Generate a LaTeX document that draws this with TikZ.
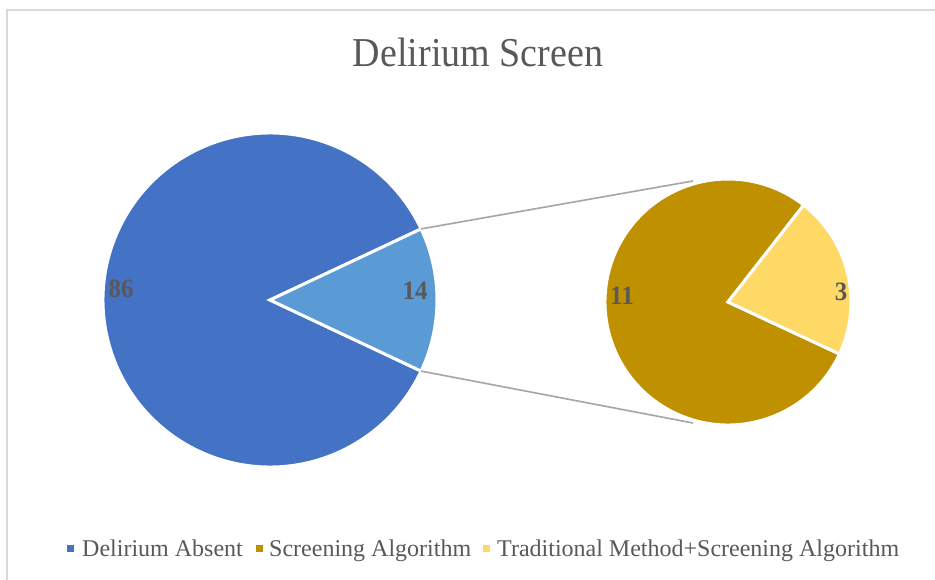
\documentclass[tikz,border=0pt]{standalone}
\usepackage{fontspec}
\setmainfont{Liberation Serif}
\usetikzlibrary{calc}
\definecolor{absentblue}{HTML}{4472C4}
\definecolor{splitblue}{HTML}{5B9BD5}
\definecolor{algobrown}{HTML}{BF9000}
\definecolor{tradyellow}{HTML}{FFD966}
\definecolor{textgray}{HTML}{595959}
\definecolor{linegray}{HTML}{A5A5A5}
\definecolor{framegray}{HTML}{D9D9D9}
\newcommand{\tallbox}[2]{\scalebox{1}[#1]{#2}}
\tikzset{
  slice/.style={draw=white, line width=3pt, line join=miter},
  serieslink/.style={draw=linegray, line width=1.6pt},
  valuelabel/.style={text=textgray, font=\bfseries\fontsize{25}{25}\selectfont, inner sep=0pt},
  legendkey/.style={minimum size=7pt, inner sep=0pt},
  legendtext/.style={text=textgray, font=\fontsize{24}{24}\selectfont, anchor=base west, inner sep=0pt}
}
\begin{document}
\begin{tikzpicture}[x=1pt, y=-1pt]
  \useasboundingbox (0,0) rectangle (935,580);
  \fill[white] (0,0) rectangle (935,580);
  % chart area frame (left and top edges)
  \draw[framegray, line width=1.5pt] (7,580) -- (7,10) -- (935,10);

  % title
  \node[text=textgray, font=\fontsize{38}{38}\selectfont, anchor=base, inner sep=0pt] (title) at (478,67) {\tallbox{1.08}{Delirium Screen}};

  % main pie
  \coordinate (mc) at (270,300);
  \filldraw[slice, fill=absentblue] (mc) -- ++(25.2:167) arc[start angle=25.2, end angle=334.8, radius=167] -- cycle;
  \filldraw[slice, fill=splitblue] (mc) -- ++(-25.2:167) arc[start angle=-25.2, end angle=25.2, radius=167] -- cycle;
  \coordinate (splittop) at ($(mc)+(-25.2:167)$);
  \coordinate (splitbot) at ($(mc)+(25.2:167)$);

  % secondary pie
  \coordinate (sc) at (728,302);
  \filldraw[slice, fill=algobrown] (sc) -- ++(25:123) arc[start angle=25, end angle=308, radius=123] -- cycle;
  \filldraw[slice, fill=tradyellow] (sc) -- ++(-52:123) arc[start angle=-52, end angle=25, radius=123] -- cycle;
  \coordinate (subtop) at (693,181);
  \coordinate (subbot) at (693,423);

  % series lines
  \draw[serieslink] (splittop) -- (subtop);
  \draw[serieslink] (splitbot) -- (subbot);

  % data labels
  \node[valuelabel] (l86) at (121,289) {\tallbox{1.06}{86}};
  \node[valuelabel] (l14) at (415,291) {\tallbox{1.06}{14}};
  \node[valuelabel] (l11) at (622,296) {\tallbox{1.06}{11}};
  \node[valuelabel] (l3) at (841,292) {\tallbox{1.06}{3}};

  % legend
  \node[legendkey, fill=absentblue] (k1) at (70.5,548) {};
  \node[legendtext] (t1) at (82,556) {Delirium Absent};
  \node[legendkey, fill=algobrown] (k2) at (259,548) {};
  \node[legendtext] (t2) at (269,556) {Screening Algorithm};
  \node[legendkey, fill=tradyellow] (k3) at (486,548) {};
  \node[legendtext] (t3) at (497,556) {Traditional Method+Screening Algorithm};
\end{tikzpicture}
\end{document}
